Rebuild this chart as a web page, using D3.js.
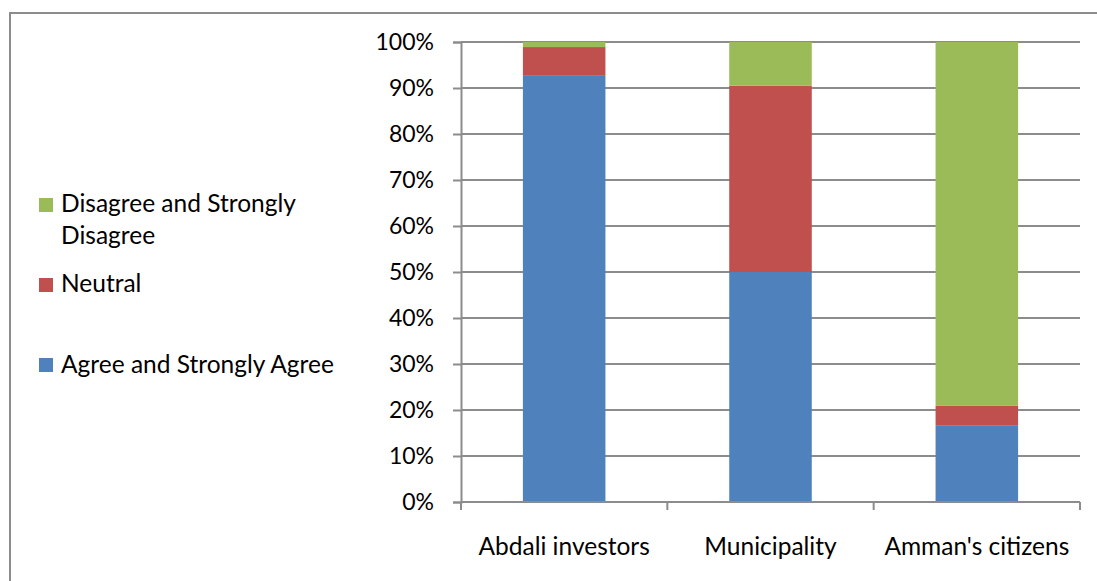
<!DOCTYPE html>
<html>
<head>
<meta charset="utf-8">
<script src="https://cdn.jsdelivr.net/npm/d3@7"></script>
<style>
  html, body { margin: 0; padding: 0; background: #fff; }
  svg { display: block; }
  text { font-family: Lato, "Open Sans", sans-serif; fill: #000; }
</style>
</head>
<body>
<svg id="chart" width="1097" height="581"></svg>
<script>
// Response shares (%) per stakeholder group
const categories = ["Abdali investors", "Municipality", "Amman's citizens"];
const agree    = [92.8, 50.0, 16.7];
const neutral  = [6.1, 40.5, 4.2];
const disagree = [1.1, 9.5, 79.1];
const seriesNames = ["Agree and Strongly Agree", "Neutral", "Disagree and Strongly Disagree"];
const seriesColors = ["#4F81BD", "#C0504D", "#9BBB59"];
const yTicks = [0, 10, 20, 30, 40, 50, 60, 70, 80, 90, 100];

const svg = d3.select("#chart");
const FS_TICK = 23;
const FS_TEXT = 24.5;
const gridColor = "#8c8c8c";

// Outer chart frame
svg.append("rect")
  .attr("x", 10).attr("y", 13)
  .attr("width", 1200).attr("height", 700)
  .attr("fill", "none").attr("stroke", gridColor).attr("stroke-width", 2);

const plot = { left: 461, right: 1080, top: 42, bottom: 502 };

const x = d3.scaleBand()
  .domain(categories)
  .range([plot.left, plot.right])
  .paddingInner(0.6)
  .paddingOuter(0.3);

const y = d3.scaleLinear().domain([0, 100]).range([plot.bottom, plot.top]);

// Horizontal gridlines
svg.append("g").selectAll("line")
  .data(yTicks.filter(d => d > 0))
  .join("line")
  .attr("x1", plot.left).attr("x2", plot.right)
  .attr("y1", d => y(d)).attr("y2", d => y(d))
  .attr("stroke", gridColor).attr("stroke-width", 2);

// Stacked bars
const rows = categories.map((c, i) => ({ cat: c, agree: agree[i], neutral: neutral[i], disagree: disagree[i] }));
const stack = d3.stack().keys(["agree", "neutral", "disagree"])(rows);

svg.append("g").selectAll("g")
  .data(stack)
  .join("g")
  .attr("fill", (d, i) => seriesColors[i])
  .selectAll("rect")
  .data(d => d)
  .join("rect")
  .attr("x", d => x(d.data.cat))
  .attr("width", x.bandwidth())
  .attr("y", d => y(d[1]))
  .attr("height", d => y(d[0]) - y(d[1]));

// Y axis
const yAxis = svg.append("g")
  .attr("transform", `translate(${plot.left},0)`)
  .call(d3.axisLeft(y).tickValues(yTicks).tickFormat(d => d + "%").tickSize(8).tickPadding(19));
yAxis.select(".domain").attr("stroke", gridColor).attr("stroke-width", 2);
yAxis.selectAll(".tick line").attr("stroke", gridColor).attr("stroke-width", 2);
yAxis.selectAll(".tick text").attr("font-size", FS_TICK).attr("font-family", "Lato, sans-serif").attr("fill", "#000");

// X axis with category separators
const xAxis = svg.append("g").attr("transform", `translate(0,${plot.bottom})`);
xAxis.append("line")
  .attr("x1", plot.left).attr("x2", plot.right)
  .attr("stroke", gridColor).attr("stroke-width", 2);
const sepIdx = d3.range(categories.length + 1);
xAxis.selectAll("line.sep")
  .data(sepIdx)
  .join("line").attr("class", "sep")
  .attr("x1", i => plot.left + i * (plot.right - plot.left) / categories.length)
  .attr("x2", i => plot.left + i * (plot.right - plot.left) / categories.length)
  .attr("y1", 0).attr("y2", 8)
  .attr("stroke", gridColor).attr("stroke-width", 2);
xAxis.selectAll("text")
  .data(categories)
  .join("text")
  .attr("x", d => x(d) + x.bandwidth() / 2)
  .attr("y", 53)
  .attr("text-anchor", "middle")
  .attr("font-size", FS_TEXT)
  .text(d => d);

// Legend
const legend = [
  { i: 2, lines: ["Disagree and Strongly", "Disagree"], sq: 198, base: 212 },
  { i: 1, lines: ["Neutral"], sq: 278, base: 292 },
  { i: 0, lines: ["Agree and Strongly Agree"], sq: 358, base: 373 }
];
const lg = svg.append("g");
legend.forEach(item => {
  lg.append("rect")
    .attr("x", 39).attr("y", item.sq)
    .attr("width", 14).attr("height", 14)
    .attr("fill", seriesColors[item.i]);
  item.lines.forEach((t, k) => {
    lg.append("text")
      .attr("x", 61).attr("y", item.base + k * 31.7)
      .attr("font-size", FS_TEXT)
      .text(t);
  });
});
</script>
</body>
</html>
